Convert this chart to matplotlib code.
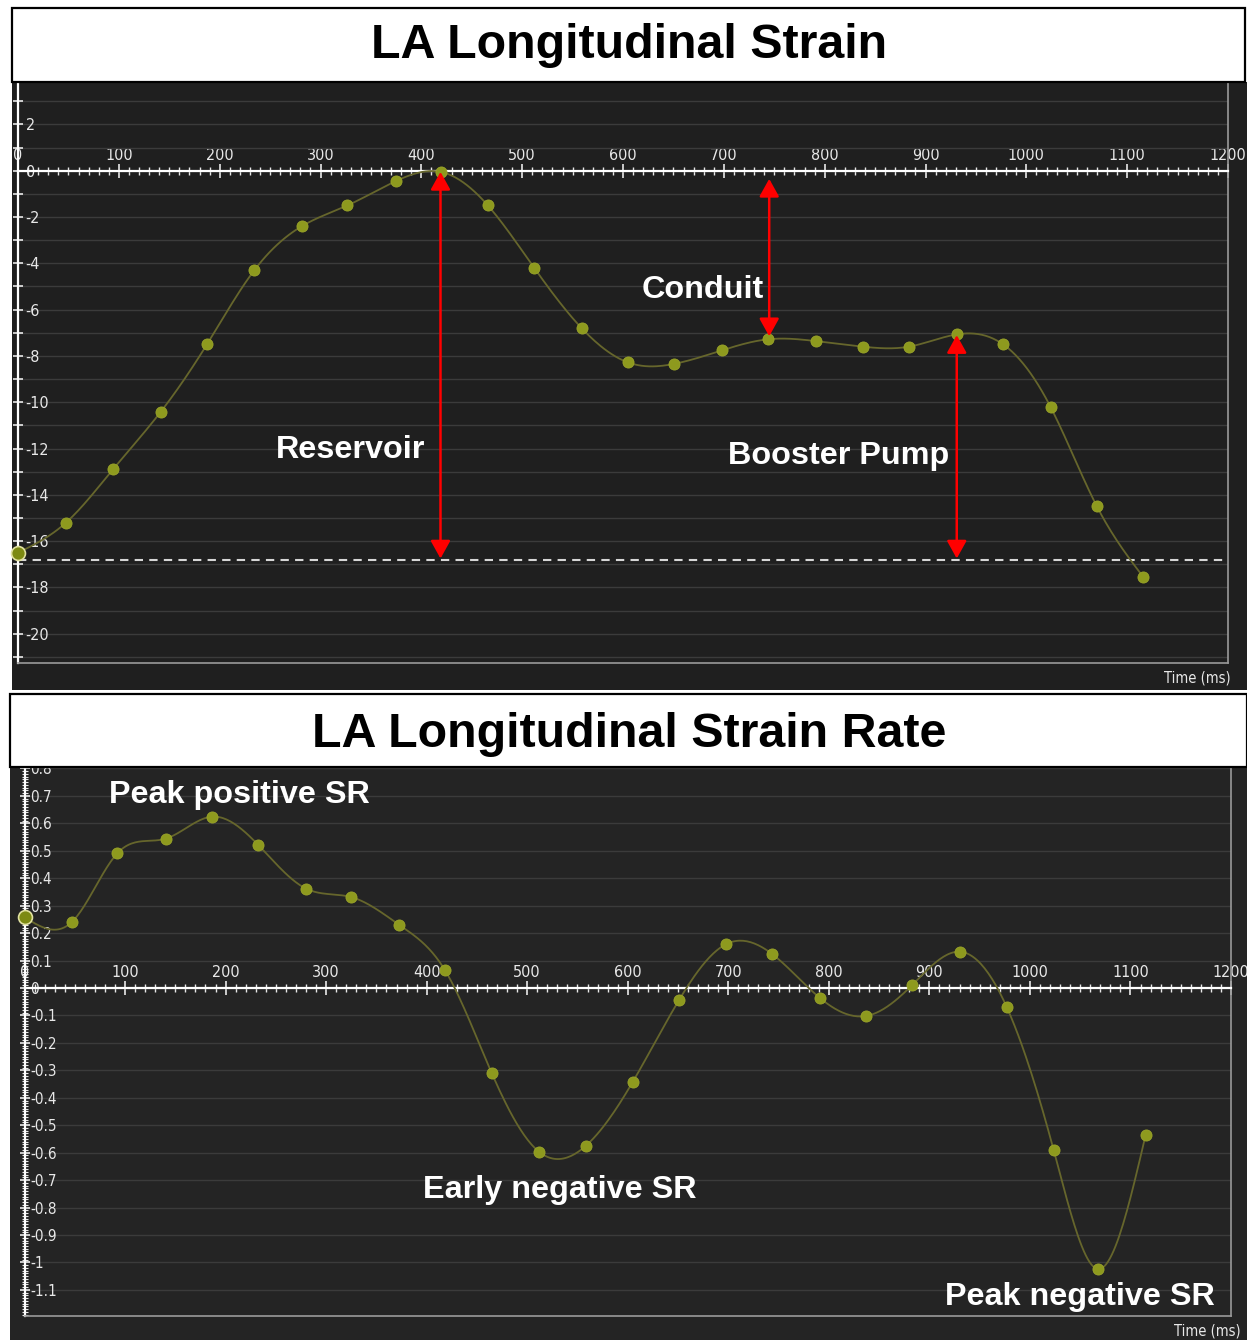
import numpy as np
import matplotlib
matplotlib.use("Agg")
import matplotlib.pyplot as plt
from matplotlib.patches import Rectangle
from matplotlib.ticker import MultipleLocator, FuncFormatter

# ---------------- data ----------------
strain_time = [0, 47.6, 94.2, 141.8, 187.4, 234.3, 281.3, 326.6, 374.6, 419.2,
               466, 512, 559, 605, 651, 698, 744, 791.5, 838, 883.5,
               931, 977, 1024, 1070, 1116]
strain_vals = [-16.5, -15.2, -12.9, -10.4, -7.5, -4.3, -2.4, -1.5, -0.45, -0.05,
               -1.5, -4.2, -6.8, -8.28, -8.34, -7.76, -7.28, -7.36, -7.6, -7.6,
               -7.07, -7.5, -10.2, -14.5, -17.55]
strain_peak_line = -16.8

sr_time = [0, 47.6, 92.4, 140.5, 186.2, 232.5, 280, 325, 372.7, 418,
           464.6, 511.5, 558, 605, 651, 698, 743.5, 791, 837, 883,
           930.4, 977, 1023.6, 1067.6, 1115]
sr_vals = [0.258, 0.242, 0.491, 0.544, 0.624, 0.521, 0.362, 0.331, 0.230, 0.066,
           -0.309, -0.596, -0.576, -0.342, -0.044, 0.160, 0.124, -0.036, -0.102, 0.011,
           0.132, -0.070, -0.590, -1.024, -0.537]

arrow_x = [419, 745, 931]
arrow_top = [-0.05, -0.35, -7.1]
arrow_bottom = [-16.75, -7.15, -16.75]

strain_labels = ["Reservoir", "Conduit", "Booster Pump"]
strain_label_x = [330, 679, 814]
strain_label_y = [-12.05, -5.15, -12.32]

sr_labels = ["Peak positive SR", "Early negative SR", "Peak negative SR"]
sr_label_x = [214, 532, 1050]
sr_label_y = [0.703, -0.736, -1.124]

title_top = "LA Longitudinal Strain"
title_bottom = "LA Longitudinal Strain Rate"
time_label = "Time (ms)"

# ---------------- helpers ----------------
W, H = 1247, 1340
fig = plt.figure(figsize=(W / 100, H / 100), dpi=100)
fig.patch.set_facecolor("white")


def fbox(x0, y0, x1, y1):
    return [x0 / W, 1 - y1 / H, (x1 - x0) / W, (y1 - y0) / H]


def add_rect(x0, y0, x1, y1, fc, ec="none", lw=0, z=-5):
    b = fbox(x0, y0, x1, y1)
    r = Rectangle((b[0], b[1]), b[2], b[3], transform=fig.transFigure,
                  facecolor=fc, edgecolor=ec, linewidth=lw, zorder=z)
    fig.add_artist(r)


def natural_spline(x, y, num=600):
    x = np.asarray(x, float)
    y = np.asarray(y, float)
    n = len(x)
    h = np.diff(x)
    A = np.zeros((n, n))
    b = np.zeros(n)
    A[0, 0] = A[-1, -1] = 1
    for i in range(1, n - 1):
        A[i, i - 1] = h[i - 1]
        A[i, i] = 2 * (h[i - 1] + h[i])
        A[i, i + 1] = h[i]
        b[i] = 6 * ((y[i + 1] - y[i]) / h[i] - (y[i] - y[i - 1]) / h[i - 1])
    M = np.linalg.solve(A, b)
    xs = np.linspace(x[0], x[-1], num)
    idx = np.clip(np.searchsorted(x, xs) - 1, 0, n - 2)
    x0, x1 = x[idx], x[idx + 1]
    y0, y1 = y[idx], y[idx + 1]
    m0, m1 = M[idx], M[idx + 1]
    hh = x1 - x0
    ys = (m0 * (x1 - xs) ** 3 / (6 * hh) + m1 * (xs - x0) ** 3 / (6 * hh)
          + (y0 - m0 * hh ** 2 / 6) * (x1 - xs) / hh
          + (y1 - m1 * hh ** 2 / 6) * (xs - x0) / hh)
    return xs, ys


TICKFONT = ["DejaVu Sans"]
TICKSTRETCH = "condensed"
BOLD = ["Liberation Sans", "Arial", "DejaVu Sans"]
LINE_C = "#66662c"
MARK_C = "#8e9a1e"
TICK_C = "#e8e8e8"
FRAME_C = "#9a9a9a"
GRID_C = "#3b3b3b"

# ---------------- panels ----------------
add_rect(12, 82, 1247, 690, "#1f1f1f")
add_rect(12, 8, 1245, 82, "white", "black", 1.6, z=5)
add_rect(10, 767, 1247, 1340, "#242424")
add_rect(10, 694, 1247, 767, "white", "black", 1.6, z=5)

fig.text(629 / W, 1 - 46 / H, title_top, ha="center", va="center",
         fontsize=34.8, fontweight="bold", family=BOLD, color="black", zorder=6)
fig.text(629 / W, 1 - 734 / H, title_bottom, ha="center", va="center",
         fontsize=34.8, fontweight="bold", family=BOLD, color="black", zorder=6)


def tickfont(labels):
    for lbl in labels:
        lbl.set_family(TICKFONT)
        lbl.set_stretch(TICKSTRETCH)


def style_axes(ax, xlim, ylim):
    ax.set_facecolor("none")
    ax.set_xlim(*xlim)
    ax.set_ylim(*ylim)
    ax.spines["top"].set_position(("data", 0))
    ax.spines["right"].set_position(("data", 0))
    ax.spines["left"].set_position(("axes", 1.0))
    for s in ("top", "right"):
        ax.spines[s].set_color("white")
        ax.spines[s].set_linewidth(1.6)
    for s in ("left", "bottom"):
        ax.spines[s].set_color(FRAME_C)
        ax.spines[s].set_linewidth(1.2)
    ax.xaxis.set_ticks_position("top")
    ax.yaxis.set_ticks_position("right")
    ax.xaxis.set_major_locator(MultipleLocator(100))
    ax.xaxis.set_minor_locator(MultipleLocator(10))
    ax.xaxis.set_major_formatter(FuncFormatter(lambda v, p: f"{int(round(v))}"))
    ax.tick_params(axis="x", which="major", direction="inout", length=10,
                   width=1.2, colors=TICK_C, labelsize=11.5, pad=0.5)
    ax.tick_params(axis="x", which="minor", direction="inout", length=6,
                   width=1.0, colors=TICK_C)
    tickfont(ax.get_xticklabels())
    ax.set_axisbelow(True)


# ---------------- top: strain ----------------
ax1 = fig.add_axes(fbox(18, 83, 1228, 662.7))
style_axes(ax1, (0, 1200), (-21.25, 3.79))
ax1.yaxis.set_major_locator(MultipleLocator(2))
ax1.yaxis.set_minor_locator(MultipleLocator(1))
ax1.yaxis.set_major_formatter(FuncFormatter(lambda v, p: f"{int(round(v))}"))
ax1.tick_params(axis="y", which="both", direction="inout", length=7,
                width=1.2, colors=TICK_C, labelsize=11.5, pad=2)
ax1.grid(axis="y", which="both", color=GRID_C, lw=1.0)
tickfont(ax1.get_yticklabels())

ax1.axhline(strain_peak_line, color="#d6d6d6", lw=1.5, ls=(0, (4, 3)), zorder=2)
xs, ys = natural_spline(strain_time, strain_vals)
ax1.plot(xs, ys, color=LINE_C, lw=1.3, zorder=3)
ax1.plot(strain_time[1:], strain_vals[1:], "o", ms=8, color=MARK_C,
         mec="#9aa42a", mew=0.6, zorder=4)
ax1.plot(strain_time[:1], strain_vals[:1], "o", ms=10, color="#7d8a12",
         mec="#e0e0a0", mew=1.2, zorder=5, clip_on=False)
for x, yt, yb in zip(arrow_x, arrow_top, arrow_bottom):
    ax1.annotate("", xy=(x, yt), xytext=(x, yb),
                 arrowprops=dict(arrowstyle="<|-|>,head_length=0.45,head_width=0.25",
                                 color="#ff0000", lw=1.8, mutation_scale=24,
                                 shrinkA=0, shrinkB=0), zorder=6)
for t, x, y in zip(strain_labels, strain_label_x, strain_label_y):
    ax1.text(x, y, t, ha="center", va="center", color="white", fontsize=23.3,
             fontweight="bold", family=BOLD, zorder=7)
ax1.text(0.975, -0.027, time_label, transform=ax1.transAxes, ha="center",
         va="center", color=TICK_C, fontsize=10.5, family=TICKFONT,
         stretch=TICKSTRETCH)

# ---------------- bottom: strain rate ----------------
ax2 = fig.add_axes(fbox(24.5, 767, 1231, 1316))
style_axes(ax2, (0, 1200), (-1.195, 0.805))
ax2.yaxis.set_major_locator(MultipleLocator(0.1))
ax2.yaxis.set_minor_locator(MultipleLocator(0.01))


def sr_fmt(v, p):
    r = round(v, 1)
    if abs(r) < 1e-9:
        return "0"
    return f"{r:g}"


ax2.yaxis.set_major_formatter(FuncFormatter(sr_fmt))
ax2.tick_params(axis="y", which="major", direction="inout", length=7,
                width=1.2, colors=TICK_C, labelsize=11, pad=0.5)
ax2.tick_params(axis="y", which="minor", direction="inout", length=4,
                width=0.8, colors=TICK_C)
ax2.grid(axis="y", which="major", color=GRID_C, lw=1.0)
tickfont(ax2.get_yticklabels())

xs, ys = natural_spline(sr_time, sr_vals)
ax2.plot(xs, ys, color=LINE_C, lw=1.3, zorder=3)
ax2.plot(sr_time[1:], sr_vals[1:], "o", ms=8, color=MARK_C,
         mec="#9aa42a", mew=0.6, zorder=4)
ax2.plot(sr_time[:1], sr_vals[:1], "o", ms=10, color="#7d8a12",
         mec="#e0e0a0", mew=1.2, zorder=5, clip_on=False)
for t, x, y in zip(sr_labels, sr_label_x, sr_label_y):
    ax2.text(x, y, t, ha="center", va="center", color="white", fontsize=23.3,
             fontweight="bold", family=BOLD, zorder=7)
ax2.text(0.98, -0.028, time_label, transform=ax2.transAxes, ha="center",
         va="center", color=TICK_C, fontsize=10.5, family=TICKFONT,
         stretch=TICKSTRETCH)

fig.savefig("out.png", dpi=100, facecolor="white")
